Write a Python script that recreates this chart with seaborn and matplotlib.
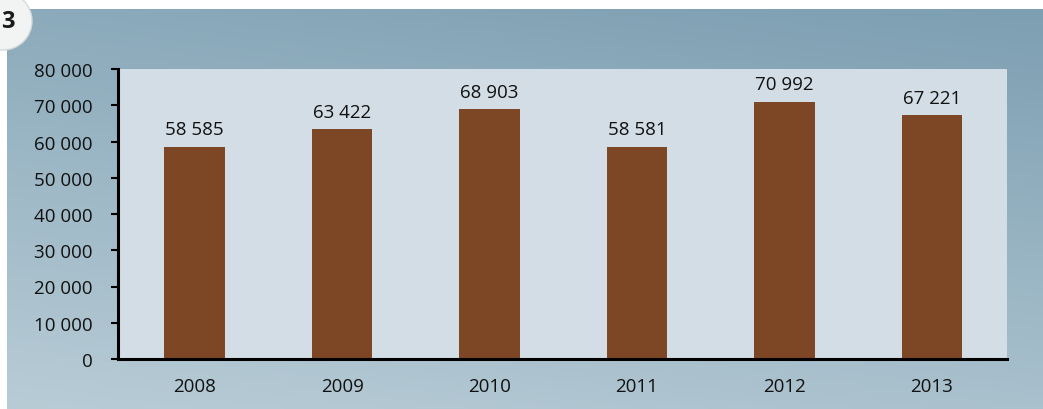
import numpy as np
import pandas as pd
import matplotlib
matplotlib.use("Agg")
import matplotlib.pyplot as plt
import seaborn as sns
from matplotlib.patches import Ellipse

years = ["2008", "2009", "2010", "2011", "2012", "2013"]
values = [58585, 63422, 68903, 58581, 70992, 67221]
yticks = [0, 10000, 20000, 30000, 40000, 50000, 60000, 70000, 80000]

sns.set_theme(style="white")
plt.rcParams['font.family'] = ['Open Sans', 'DejaVu Sans']

W, H = 1043, 410
fig = plt.figure(figsize=(W / 100, H / 100), dpi=100, facecolor="white")

# background panel with gradient
bg = fig.add_axes([7 / W, 0, 1 - 7 / W, 1 - 10 / H])
bg.set_axis_off()
xx = np.linspace(0, 1, 300)
yy = np.linspace(0, 1, 120)
X, Y = np.meshgrid(xx, yy)
c_top = np.array([0x7d, 0x9f, 0xb2]) / 255
c_bot = np.array([0xb8, 0xcc, 0xd6]) / 255
t = (Y * 0.75 + 0.25 * (1 - X))
t = np.clip(t, 0, 1)[..., None]
img = c_top * (1 - t) + c_bot * t
bg.imshow(img, aspect="auto", extent=[0, 1, 0, 1], origin="upper")

# badge
fig.patches.append(Ellipse((3 / W, 1 - 22 / H), 58 / W, 58 / H, transform=fig.transFigure,
                           facecolor="#f2f4f4", edgecolor="#d5dada", lw=1, zorder=5))
fig.text(1 / W, 1 - 22 / H, "3", fontsize=17, fontweight="bold", color="#1a1a1a",
         va="center", ha="left", zorder=6)

left, right, top, bottom = 118, 1007, 70, 360
ax = fig.add_axes([left / W, 1 - bottom / H, (right - left) / W, (bottom - top) / H])
ax.set_facecolor("#d2dde5")

df = pd.DataFrame({"year": years, "value": values})
sns.barplot(data=df, x="year", y="value", color="#7d4624", saturation=1,
            width=0.41, linewidth=0, edgecolor="none", ax=ax)

for i, v in enumerate(values):
    ax.annotate(f"{v:,}".replace(",", " "), (i, v), xytext=(0, 6),
                textcoords="offset points", ha="center", va="bottom",
                fontsize=13.5, color="#111111")

ax.set_ylim(0, 80000)
ax.set_xlim(-0.52, 5.51)
ax.set_yticks(yticks)
ax.set_yticklabels([f"{v:,}".replace(",", " ") for v in yticks])
ax.set_xlabel("")
ax.set_ylabel("")
for s in ["top", "right"]:
    ax.spines[s].set_visible(False)
for s in ["left", "bottom"]:
    ax.spines[s].set_color("black")
    ax.spines[s].set_linewidth(2.2)
ax.tick_params(axis="y", which="both", left=True, length=5, width=1.5, color="black",
               labelsize=13.5, labelcolor="#111111", pad=13)
ax.tick_params(axis="x", bottom=False, labelsize=13.5, labelcolor="#111111", pad=7)

fig.savefig("out.png", dpi=100, facecolor="white")
